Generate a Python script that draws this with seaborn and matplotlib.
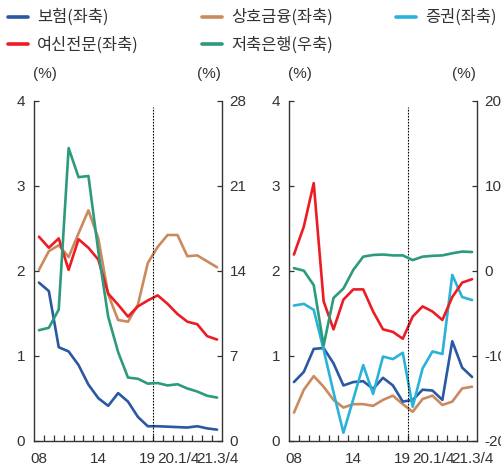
import numpy as np
import pandas as pd
import matplotlib
matplotlib.use("Agg")
import matplotlib.pyplot as plt
import seaborn as sns
from matplotlib.lines import Line2D
from matplotlib import font_manager

# ---- data -------------------------------------------------------------
periods = ['08', '09', '10', '11', '12', '13', '14', '15', '16', '17', '18', '19',
           '20.1/4', '20.2/4', '20.3/4', '20.4/4', '21.1/4', '21.2/4', '21.3/4']
shown_labels = ['08', '14', '19', '20.1/4', '21.3/4']

# left panel (left axis, %)
l_insurance = [1.86, 1.76, 1.10, 1.05, 0.89, 0.66, 0.50, 0.41, 0.56, 0.46, 0.28, 0.17,
               0.17, 0.165, 0.16, 0.155, 0.17, 0.145, 0.13]
l_credit = [2.40, 2.27, 2.38, 2.01, 2.37, 2.27, 2.13, 1.73, 1.60, 1.46, 1.58, 1.65,
            1.71, 1.61, 1.49, 1.40, 1.37, 1.23, 1.19]
l_mutual = [2.01, 2.23, 2.30, 2.16, 2.44, 2.71, 2.38, 1.72, 1.42, 1.40, 1.60, 2.09,
            2.28, 2.42, 2.42, 2.17, 2.18, 2.11, 2.04]
# left panel (right axis, %)
l_savings = [9.1, 9.3, 10.8, 24.1, 21.7, 21.8, 15.6, 10.2, 7.3, 5.2, 5.1, 4.7,
             4.75, 4.55, 4.65, 4.3, 4.05, 3.7, 3.55]

# right panel (left axis, %)
r_insurance = [0.69, 0.81, 1.08, 1.09, 0.91, 0.65, 0.69, 0.70, 0.61, 0.74, 0.65, 0.46,
               0.48, 0.60, 0.59, 0.48, 1.17, 0.86, 0.75]
r_credit = [2.19, 2.52, 3.03, 1.64, 1.31, 1.66, 1.78, 1.78, 1.52, 1.31, 1.28, 1.20,
            1.46, 1.58, 1.52, 1.42, 1.69, 1.86, 1.90]
r_mutual = [0.33, 0.60, 0.76, 0.635, 0.48, 0.39, 0.43, 0.43, 0.41, 0.48, 0.53, 0.43,
            0.34, 0.49, 0.53, 0.42, 0.46, 0.615, 0.635]
r_securities = [1.59, 1.61, 1.54, 1.07, 0.57, 0.094, 0.49, 0.89, 0.55, 0.99, 0.96, 1.035,
                0.40, 0.85, 1.05, 1.02, 1.95, 1.69, 1.655]
# right panel (right axis, %)
r_savings = [0.3, 0.0, -1.7, -8.8, -3.2, -2.1, 0.1, 1.65, 1.85, 1.9, 1.8, 1.8,
             1.25, 1.65, 1.75, 1.8, 2.05, 2.25, 2.2]

names = {'ins': '보험(좌축)', 'credit': '여신전문(좌축)', 'mutual': '상호금융(좌축)',
         'savings': '저축은행(우축)', 'sec': '증권(좌축)'}
colors = {'ins': '#2b58a3', 'credit': '#ec1c24', 'mutual': '#cb8a5d',
          'savings': '#2c9a7c', 'sec': '#2ab2da'}

# ---- fonts ------------------------------------------------------------
sns.set_theme(style='white')
available = {f.name for f in font_manager.fontManager.ttflist}
num_font = 'Liberation Sans Narrow' if 'Liberation Sans Narrow' in available else 'Liberation Sans'
plt.rcParams['font.family'] = [num_font, 'DejaVu Sans']
plt.rcParams['axes.unicode_minus'] = False
kr_font = ['Noto Sans CJK KR', 'DejaVu Sans']

INK = '#333333'
LW = 1.9
x = np.arange(len(periods))


def style_panel(ax, ax2, right_lim, right_ticks):
    ax.set_xlim(-0.5, len(periods) - 0.5)
    ax.set_ylim(0, 4)
    ax.set_yticks([0, 1, 2, 3, 4])
    ax2.set_ylim(*right_lim)
    ax2.set_yticks(right_ticks)
    ax.set_xlabel('')
    ax.set_ylabel('')
    ax2.set_ylabel('')
    for a in (ax, ax2):
        a.grid(False)
        a.spines['top'].set_visible(False)
        for s in ('left', 'right', 'bottom'):
            a.spines[s].set_color(INK)
            a.spines[s].set_linewidth(1.0)
        if a.get_legend() is not None:
            a.get_legend().remove()
    ax2.spines['left'].set_visible(False)
    ax2.spines['bottom'].set_visible(False)
    ax.spines['right'].set_visible(False)

    pos = [periods.index(p) for p in shown_labels]
    ax.set_xticks(pos)
    ax.set_xticklabels(shown_labels)
    ax.set_xticks(np.arange(0.5, len(periods) - 1, 1.0), minor=True)
    ax.tick_params(axis='x', which='major', length=0, pad=8, labelsize=11, colors=INK)
    ax.tick_params(axis='x', which='minor', direction='in', length=4.3, width=0.9,
                   color=INK, bottom=True)
    ax.tick_params(axis='y', which='major', direction='in', length=3.6, width=0.9,
                   pad=6.5, labelsize=11, colors=INK, left=True)
    ax2.tick_params(axis='y', which='major', direction='in', length=3.6, width=0.9,
                    pad=5.5, labelsize=11, colors=INK, right=True)
    for lbl in ax.get_xticklabels():
        if lbl.get_text() == '20.1/4':
            lbl.set_horizontalalignment('left')
    # boundary between annual and quarterly data
    ax.axvline(11.5, ymin=0, ymax=0.981, color='black', ls=(0, (1.5, 1.2)), lw=0.8)
    ax.text(0.0585, 1.078, '(%)', transform=ax.transAxes, ha='center', va='center',
            fontsize=11, color=INK)
    ax.text(0.931, 1.078, '(%)', transform=ax.transAxes, ha='center', va='center',
            fontsize=11, color=INK)


fig = plt.figure(figsize=(5.02, 4.69), dpi=100)
axL = fig.add_axes([34 / 502, 1 - 440.7 / 469, 188 / 502, 340 / 469])
axR = fig.add_axes([289 / 502, 1 - 440.7 / 469, 188 / 502, 340 / 469])
axL2 = axL.twinx()
axR2 = axR.twinx()

left_df = pd.DataFrame({'x': x, 'ins': l_insurance, 'credit': l_credit,
                        'mutual': l_mutual, 'savings': l_savings})
right_df = pd.DataFrame({'x': x, 'ins': r_insurance, 'credit': r_credit,
                         'mutual': r_mutual, 'sec': r_securities, 'savings': r_savings})

for key in ('mutual', 'ins', 'credit'):
    sns.lineplot(data=left_df, x='x', y=key, ax=axL, color=colors[key], lw=LW)
sns.lineplot(data=left_df, x='x', y='savings', ax=axL2, color=colors['savings'], lw=LW)

for key in ('mutual', 'ins', 'sec', 'credit'):
    sns.lineplot(data=right_df, x='x', y=key, ax=axR, color=colors[key], lw=LW)
sns.lineplot(data=right_df, x='x', y='savings', ax=axR2, color=colors['savings'], lw=LW)

style_panel(axL, axL2, (0, 28), [0, 7, 14, 21, 28])
style_panel(axR, axR2, (-20, 20), [-20, -10, 0, 10, 20])

# legend across the top
order = ['ins', 'credit', 'mutual', 'savings', 'sec']
handles = [Line2D([], [], color=colors[k], lw=2.6) for k in order]
labels = [names[k] for k in order]
fig.legend(handles, labels, loc='upper left', bbox_to_anchor=(8 / 502, 1 - 9 / 469), ncol=3,
           frameon=False, prop={'family': kr_font, 'size': 11.8}, handlelength=1.22,
           handletextpad=0.55, columnspacing=3.85, labelspacing=0.62, borderpad=0,
           borderaxespad=0, labelcolor=INK)

fig.savefig('out.png', dpi=100)
